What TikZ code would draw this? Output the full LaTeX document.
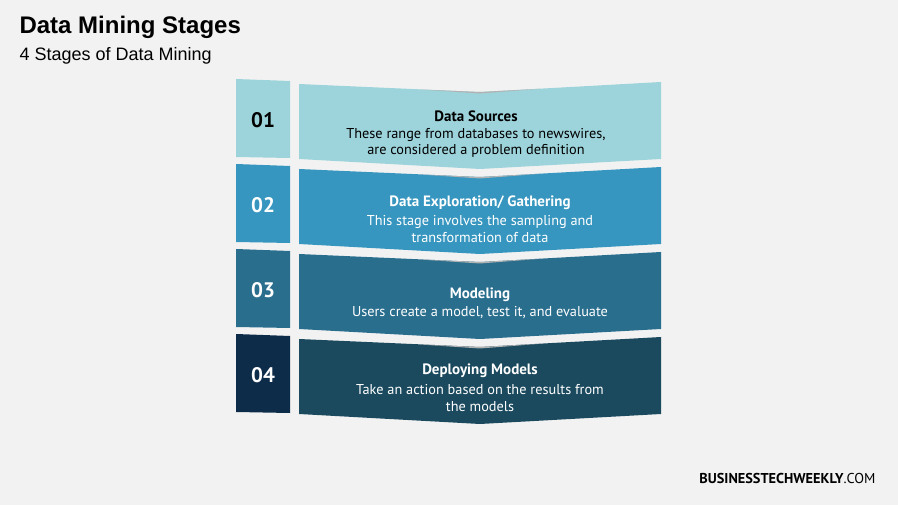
\documentclass[tikz,border=0pt]{standalone}
\usepackage{fontspec}
\setmainfont{Liberation Sans}
\newfontfamily\bandfont{PT Sans}
\begin{document}
\begin{tikzpicture}[x=1pt,y=-1pt,
  numtxt/.style={font=\bandfont\bfseries\fontsize{21}{21}\selectfont,anchor=center},
  head/.style={font=\bandfont\bfseries\fontsize{15}{17}\selectfont,anchor=center},
  body/.style={font=\bandfont\fontsize{14.3}{16.5}\selectfont,align=center,anchor=center}]
\definecolor{bg}{HTML}{F2F2F2}
\definecolor{c1}{HTML}{9DD3DA}
\definecolor{c2}{HTML}{3796BF}
\definecolor{c3}{HTML}{2A6E8E}
\definecolor{c4}{HTML}{1B4A5F}
\definecolor{n4}{HTML}{0D2C4A}
\useasboundingbox (0,0) rectangle (898,505);
\fill[bg] (0,0) rectangle (898,505);
\node[anchor=west,font=\bfseries\fontsize{24}{24}\selectfont] (title) at (16,27) {Data Mining Stages};
\node[anchor=west,font=\fontsize{18}{18}\selectfont] (sub) at (16,56) {4 Stages of Data Mining};
\foreach \i/\c/\nc/\tc in {0/c1/c1/black,1/c2/c2/white,2/c3/c3/white,3/c4/n4/white}{
  \pgfmathsetmacro\o{85*\i}
  \fill[\nc] (236,79+\o) -- (290,81+\o) -- (290,158+\o) -- (236,157+\o) -- cycle;
  \fill[\c] (299,84+\o) -- (480,92+\o) -- (661,82+\o) -- (661,159+\o) -- (480,169+\o) -- (299,159+\o) -- cycle;
  \fill[gray!60] (420,89.5+\o) -- (480,92+\o) -- (540,88.8+\o) -- (480,93.5+\o) -- cycle;
}
\node[numtxt] (n1) at (263,120) {01};
\node[numtxt,white] (n2) at (263,205) {02};
\node[numtxt,white] (n3) at (263,290) {03};
\node[numtxt,white] (n4) at (263,375) {04};
\node[head] (h1) at (476,116) {Data Sources};
\node[body] (b1) at (476,143) {These range from databases to newswires,\\are considered a problem definition};
\node[head,white] (h2) at (480,203) {Data Exploration/ Gathering};
\node[body,white] (b2) at (480,229) {This stage involves the sampling and\\transformation of data};
\node[head,white] (h3) at (480,295) {Modeling};
\node[body,white] (b3) at (480,313) {Users create a model, test it, and evaluate};
\node[head,white] (h4) at (480,371) {Deploying Models};
\node[body,white] (b4) at (480,398) {Take an action based on the results from\\the models};
\node[anchor=east,font=\bandfont\fontsize{14.3}{14.3}\selectfont] (foot) at (879,478) {\textbf{BUSINESSTECHWEEKLY}.COM};
\end{tikzpicture}
\end{document}
